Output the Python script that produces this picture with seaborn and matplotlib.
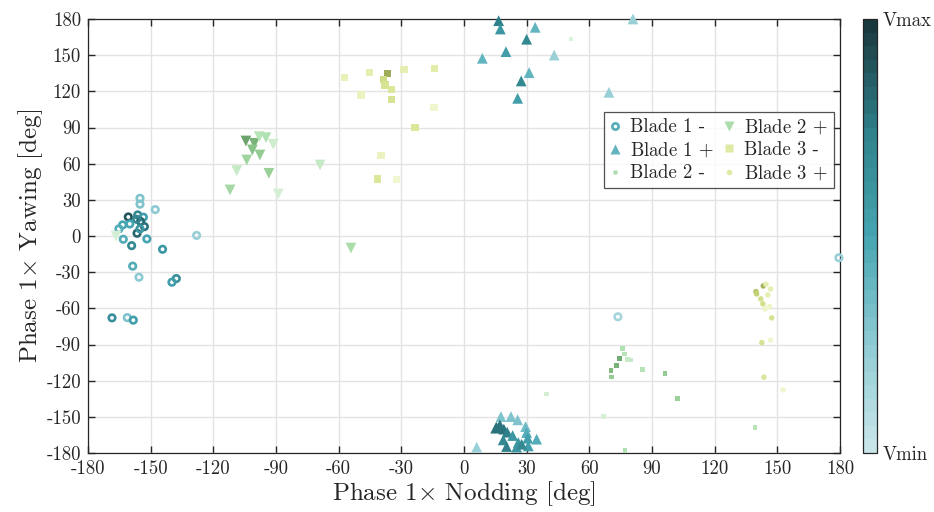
import numpy as np
import pandas as pd
import matplotlib
matplotlib.use("Agg")
import matplotlib.pyplot as plt
import seaborn as sns
from matplotlib.colors import LinearSegmentedColormap, ListedColormap, Normalize
from matplotlib.lines import Line2D
import matplotlib.cm as cm

sns.set_theme(style="white")
plt.rcParams['font.family'] = ['cmr10', 'DejaVu Serif']
plt.rcParams['mathtext.fontset'] = 'cm'
plt.rcParams['axes.unicode_minus'] = False
plt.rcParams['axes.formatter.use_mathtext'] = True

# ---- data (nodding x, yawing y, colour level v in 0..1) ----
b1m_x = [-155.1, -155.1, -147.8, -160.7, -156.2, -153.5, -154.8, -153.0, -156.7, -163.4, -165.2, -160.0,
         -156.5, -155.1, -163.1, -151.8, -159.1, -144.3, -128.0, -158.6, -155.6, -137.7, -139.8, -168.5,
         -161.2, -158.3, 73.7, 179.5]
b1m_y = [31.3, 26.4, 21.9, 15.8, 17.5, 15.6, 12.0, 7.8, 13.9, 9.2, 5.9, 10.0,
         2.3, 5.9, -2.7, -2.4, -8.0, -11.0, 0.5, -25.0, -34.2, -35.3, -38.3, -67.9,
         -67.7, -69.8, -67.0, -18.0]
b1m_v = [0.3, 0.3, 0.25, 0.9, 0.7, 0.55, 0.85, 0.8, 0.7, 0.5, 0.45, 0.5,
         0.85, 0.6, 0.45, 0.5, 0.7, 0.6, 0.2, 0.45, 0.25, 0.65, 0.55, 0.65,
         0.3, 0.55, 0.15, 0.2]

b1p_x = [16.6, 17.4, 34.1, 30.0, 20.1, 8.8, 43.2, 31.2, 27.4, 25.7, 69.4, 80.9,
         6.1, 17.7, 22.5, 25.7, 29.5, 15.6, 15.2, 17.2, 19.1, 20.7, 18.8, 23.3,
         20.4, 26.0, 25.2, 30.0, 30.5, 30.8, 34.8, 27.6]
b1p_y = [178.6, 171.7, 173.1, 163.2, 152.9, 147.4, 150.1, 135.5, 128.6, 114.2, 119.2, 180.0,
         -175.1, -149.8, -149.8, -152.5, -158.1, -158.6, -159.4, -156.7, -160.2, -162.7, -169.1, -165.5,
         -174.6, -171.3, -175.1, -163.0, -167.7, -174.1, -168.5, -172.7]
b1p_v = [0.75, 0.6, 0.4, 0.7, 0.55, 0.4, 0.2, 0.4, 0.7, 0.55, 0.2, 0.2,
         0.2, 0.3, 0.3, 0.3, 0.35, 0.8, 0.8, 0.8, 0.8, 0.75, 0.7, 0.6,
         0.75, 0.6, 0.6, 0.45, 0.55, 0.55, 0.45, 0.7]

b2m_x = [76.0, 76.8, 74.4, 78.4, 79.8, 73.1, 70.4, 70.5, 85.3, 96.2, 102.1, 66.7, 77.1, 39.7, 51.2, 139.3]
b2m_y = [-93.0, -97.8, -101.7, -102.2, -102.8, -107.1, -111.3, -116.9, -110.5, -113.8, -135.1, -149.8,
         -178.2, -131.0, 163.4, -159.0]
b2m_v = [0.35, 0.3, 0.85, 0.2, 0.2, 0.8, 0.75, 0.6, 0.3, 0.6, 0.55, 0.1, 0.35, 0.1, 0.05, 0.3]

b2p_x = [-104.4, -100.4, -98.0, -94.8, -91.3, -101.3, -97.7, -104.0, -108.8, -93.4, -112.0, -88.9, -68.9,
         -54.1, -166.6]
b2p_y = [78.8, 76.9, 82.4, 81.6, 76.1, 71.4, 67.2, 63.1, 54.2, 52.0, 38.2, 34.9, 58.9, -10.0, -0.1]
b2p_v = [0.9, 0.8, 0.3, 0.35, 0.15, 0.7, 0.6, 0.5, 0.2, 0.55, 0.45, 0.1, 0.2, 0.4, 0.1]

b3m_x = [-57.3, -45.3, -36.5, -38.6, -37.8, -34.6, -34.8, -28.7, -14.2, -49.3, -14.4, -23.5, -39.7,
         -41.3, -32.2]
b3m_y = [131.3, 135.8, 135.0, 130.0, 125.3, 121.7, 113.4, 138.3, 139.1, 117.0, 106.8, 90.2, 66.6,
         47.3, 47.1]
b3m_v = [0.25, 0.3, 0.95, 0.6, 0.5, 0.45, 0.5, 0.3, 0.35, 0.2, 0.1, 0.45, 0.2, 0.45, 0.1]

b3p_x = [143.3, 144.6, 146.8, 139.8, 140.1, 145.5, 142.1, 143.1, 146.2, 144.1, 147.3, 142.6, 146.8,
         143.6, 152.8]
b3p_y = [-41.4, -40.0, -43.9, -46.1, -48.0, -48.9, -52.2, -56.3, -58.6, -60.5, -67.9, -88.4, -86.4,
         -117.1, -127.6]
b3p_v = [0.9, 0.3, 0.3, 0.8, 0.7, 0.3, 0.55, 0.55, 0.15, 0.15, 0.5, 0.5, 0.1, 0.45, 0.1]

ticks = list(range(-180, 181, 30))

# ---- colormaps ----
teal = LinearSegmentedColormap.from_list("teal", ["#c8e6ea", "#8dcad3", "#45a5b2", "#2f818b", "#1a393e"])
green = LinearSegmentedColormap.from_list("green", ["#e2f5e2", "#b2e2b2", "#8cc78c", "#5f9460"])
yel = LinearSegmentedColormap.from_list("yel", ["#f5f9dd", "#e4eeac", "#cbd97c", "#96a455"])

fig = plt.figure(figsize=(9.34, 5.12), dpi=100)
ax = fig.add_axes([0.0942, 0.1152, 0.8051, 0.8477])

series = [
    ("Blade 1 -", b1m_x, b1m_y, b1m_v, teal, "o", 22, True),
    ("Blade 1 $+$", b1p_x, b1p_y, b1p_v, teal, "^", 60, False),
    ("Blade 2 -", b2m_x, b2m_y, b2m_v, green, "s", 12, False),
    ("Blade 2 $+$", b2p_x, b2p_y, b2p_v, green, "v", 60, False),
    ("Blade 3 -", b3m_x, b3m_y, b3m_v, yel, "s", 28, False),
    ("Blade 3 $+$", b3p_x, b3p_y, b3p_v, yel, "o", 16, False),
]

handles = []
for lab, xs, ys, vs, cmap, mk, s, ring in series:
    df = pd.DataFrame({"x": xs, "y": ys, "v": vs})
    sns.scatterplot(data=df, x="x", y="y", hue="v", palette=cmap, hue_norm=(0, 1),
                    marker=mk, s=s, linewidth=0, legend=False, ax=ax, zorder=3, clip_on=False)
    pc = ax.collections[-1]
    if ring:
        fc = pc.get_facecolors()
        pc.set_facecolors("none")
        pc.set_edgecolors(fc)
        pc.set_linewidths(1.9)
        handles.append(Line2D([], [], ls="none", marker="o", ms=4.5, mfc="none", mec=cmap(0.45), mew=1.9,
                              label=lab))
    else:
        handles.append(Line2D([], [], ls="none", marker=mk, ms=np.sqrt(s) * 1.0, mfc=cmap(0.4),
                              mec="none", label=lab))

ax.set_xlim(-180, 180)
ax.set_ylim(-180, 180)
ax.set_xticks(ticks)
ax.set_yticks(ticks)
ax.set_xticklabels([str(t) for t in ticks])
ax.set_yticklabels([str(t) for t in ticks])
ax.grid(True, color="#e3e3e3", lw=1.0)
ax.set_axisbelow(True)
ax.tick_params(direction="in", length=5, width=1, top=True, right=True, labelsize=13.5,
               colors="#262626", pad=5, bottom=True, left=True)
for sp in ax.spines.values():
    sp.set_color("#262626")
    sp.set_linewidth(0.9)
ax.set_xlabel("Phase 1$\\times$ Nodding [deg]", fontsize=18, labelpad=1)
ax.set_ylabel("Phase 1$\\times$ Yawing [deg]", fontsize=18, labelpad=1)

leg = ax.legend(handles=handles, ncol=2, loc="upper left", bbox_to_anchor=(0.686, 0.786),
                fontsize=13.5, frameon=True, fancybox=False, edgecolor="#262626",
                handlelength=0.6, handletextpad=0.5, columnspacing=0.5, labelspacing=0.25,
                borderpad=0.3, borderaxespad=0)
leg.get_frame().set_linewidth(0.9)

# colorbar
cax = fig.add_axes([0.924, 0.1152, 0.015, 0.8477])
cb_cmap = ListedColormap(teal(np.linspace(0, 1, 32)))
sm = cm.ScalarMappable(norm=Normalize(0, 1), cmap=cb_cmap)
cb = fig.colorbar(sm, cax=cax, ticks=[0, 1])
cb.ax.set_yticklabels(["Vmin", "Vmax"], fontsize=13.5)
cb.ax.tick_params(length=0, pad=4)
cb.outline.set_edgecolor("#262626")
cb.outline.set_linewidth(0.9)

fig.savefig("out.png", dpi=100)
